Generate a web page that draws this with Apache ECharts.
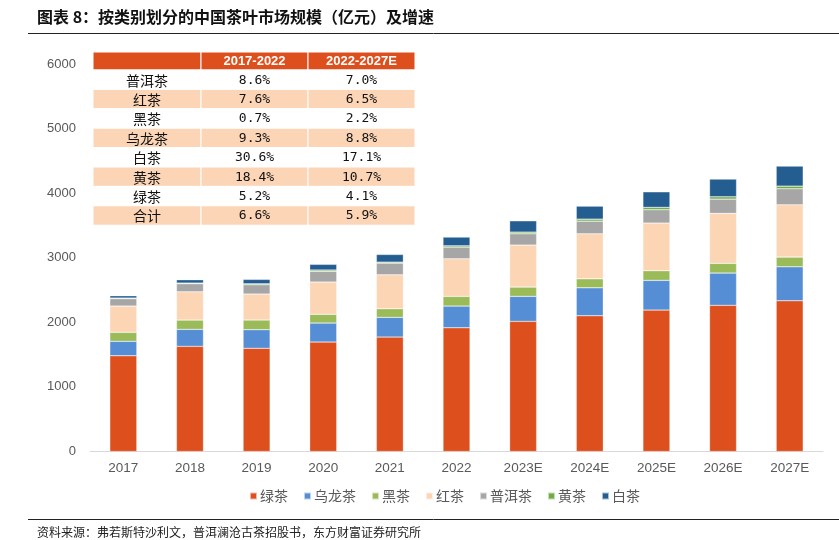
<!DOCTYPE html>
<html>
<head>
<meta charset="utf-8">
<script src="https://cdn.jsdelivr.net/npm/echarts@6/dist/echarts.min.js"></script>
<style>
html,body{margin:0;padding:0;background:#fff;}
#chart{width:839px;height:540px;}
</style>
</head>
<body>
<div id="chart"></div>
<script>
// ---- data ----
var categories = ['2017','2018','2019','2020','2021','2022','2023E','2024E','2025E','2026E','2027E'];
var seriesNames = ['绿茶','乌龙茶','黑茶','红茶','普洱茶','黄茶','白茶'];
var greenTea  = [1483,1628,1598,1695,1772,1916,2015,2102,2190,2263,2334];
var oolongTea = [223,263,288,294,305,336,387,433,460,500,526];
var darkTea   = [139,144,150,135,133,150,144,139,149,150,150];
var blackTea  = [407,438,402,500,526,582,650,697,738,774,810];
var puerTea   = [113,124,144,166,181,181,175,196,206,221,248];
var yellowTea = [11,11,15,20,15,20,26,31,37,36,41];
var whiteTea  = [36,51,68,88,119,135,175,201,241,274,310];
var yTicks = [0,1000,2000,3000,4000,5000,6000];

var tableHeader = ['', '2017-2022', '2022-2027E'];
var tableRows = ['普洱茶','红茶','黑茶','乌龙茶','白茶','黄茶','绿茶','合计'];
var cagr1722 = ['8.6%','7.6%','0.7%','9.3%','30.6%','18.4%','5.2%','6.6%'];
var cagr2227 = ['7.0%','6.5%','2.2%','8.8%','17.1%','10.7%','4.1%','5.9%'];

var titleText = '图表 8：按类别划分的中国茶叶市场规模（亿元）及增速';
var sourceText = '资料来源：弗若斯特沙利文，普洱澜沧古茶招股书，东方财富证券研究所';

// ---- styles ----
var colors = ['#DE4F1E','#558ED5','#9BBB59','#FCD5B5','#A6A6A6','#70AD47','#245E91'];
var valuesList = [greenTea, oolongTea, darkTea, blackTea, puerTea, yellowTea, whiteTea];
var cjk = '"Noto Sans CJK SC", sans-serif';

var series = seriesNames.map(function(n, i){
  return {
    name: n, type: 'bar', stack: 'total', data: valuesList[i],
    barWidth: 27,
    itemStyle: {color: colors[i], borderColor: 'rgba(255,255,255,0.6)', borderWidth: 0.5},
    emphasis: {disabled: true}
  };
});

// table graphic
var tx = 93, colW = [108, 107, 107], headY = 52, headH = 18, rowH = 19.4;
var g = [];
var headerFill = '#DE4F1E', altFill = '#FBD5B5';
var cx0 = tx;
for (var c = 0; c < 3; c++) {
  g.push({type:'rect', shape:{x:cx0, y:headY, width:colW[c], height:headH},
    style:{fill:headerFill, stroke:'#fff', lineWidth:1}, silent:true});
  if (tableHeader[c]) {
    g.push({type:'text', x:cx0 + colW[c]/2, y:headY + headH/2 + 0.5,
      style:{text:tableHeader[c], fill:'#fff', font:'bold 13px "Liberation Sans", Arial, sans-serif', align:'center', verticalAlign:'middle'}, silent:true});
  }
  cx0 += colW[c];
}
for (var r = 0; r < tableRows.length; r++) {
  var y = headY + headH + r*rowH;
  var fill = (r % 2 === 1) ? altFill : '#fff';
  var cells = [tableRows[r], cagr1722[r], cagr2227[r]];
  var xx = tx;
  for (var c2 = 0; c2 < 3; c2++) {
    g.push({type:'rect', shape:{x:xx, y:y, width:colW[c2], height:rowH},
      style:{fill:fill, stroke:'#fff', lineWidth:1}, silent:true});
    g.push({type:'text', x:xx + colW[c2]/2, y:y + rowH/2 + 0.5,
      style:{text:cells[c2], fill:'#111', font:(c2===0 ? '14px ' + cjk : '13px "DejaVu Sans Mono", monospace'), align:'center', verticalAlign:'middle'}, silent:true});
    xx += colW[c2];
  }
}
// title, lines, source
g.push({type:'text', x:37, y:17, style:{text:titleText, fill:'#111', font:'bold 16px ' + cjk, verticalAlign:'middle'}, silent:true});
g.push({type:'line', shape:{x1:28, y1:33.5, x2:839, y2:33.5}, style:{stroke:'#222', lineWidth:1}, silent:true});
g.push({type:'line', shape:{x1:28, y1:519.5, x2:839, y2:519.5}, style:{stroke:'#222', lineWidth:1}, silent:true});
g.push({type:'text', x:37, y:532, style:{text:sourceText, fill:'#222', font:'12px ' + cjk, verticalAlign:'middle'}, silent:true});

var chart = echarts.init(document.getElementById('chart'), null, {renderer:'canvas'});
chart.setOption({
  animation: false,
  backgroundColor: '#fff',
  color: colors,
  grid: {left: 90, right: 16, top: 64, bottom: 88.5, containLabel: false},
  legend: {
    data: seriesNames, top: 484, left: 244,
    icon: 'rect', itemWidth: 7, itemHeight: 7, itemGap: 15,
    textStyle: {color: '#595959', fontSize: 14, fontFamily: cjk, padding: [0,0,0,-2]},
    selectedMode: false
  },
  xAxis: {
    type: 'category', data: categories,
    axisLine: {lineStyle: {color: '#D9D9D9', width: 1}},
    axisTick: {show: false},
    axisLabel: {color: '#595959', fontSize: 13.5, fontFamily: '"Liberation Sans", Arial, sans-serif', margin: 10}
  },
  yAxis: {
    type: 'value', min: yTicks[0], max: yTicks[yTicks.length-1], interval: 1000,
    axisLine: {show: false}, axisTick: {show: false},
    splitLine: {show: false},
    axisLabel: {color: '#595959', fontSize: 13, fontFamily: '"Liberation Sans", Arial, sans-serif', margin: 14,
      formatter: function(v){ return String(v); }}
  },
  graphic: g,
  series: series
});
</script>
</body>
</html>
